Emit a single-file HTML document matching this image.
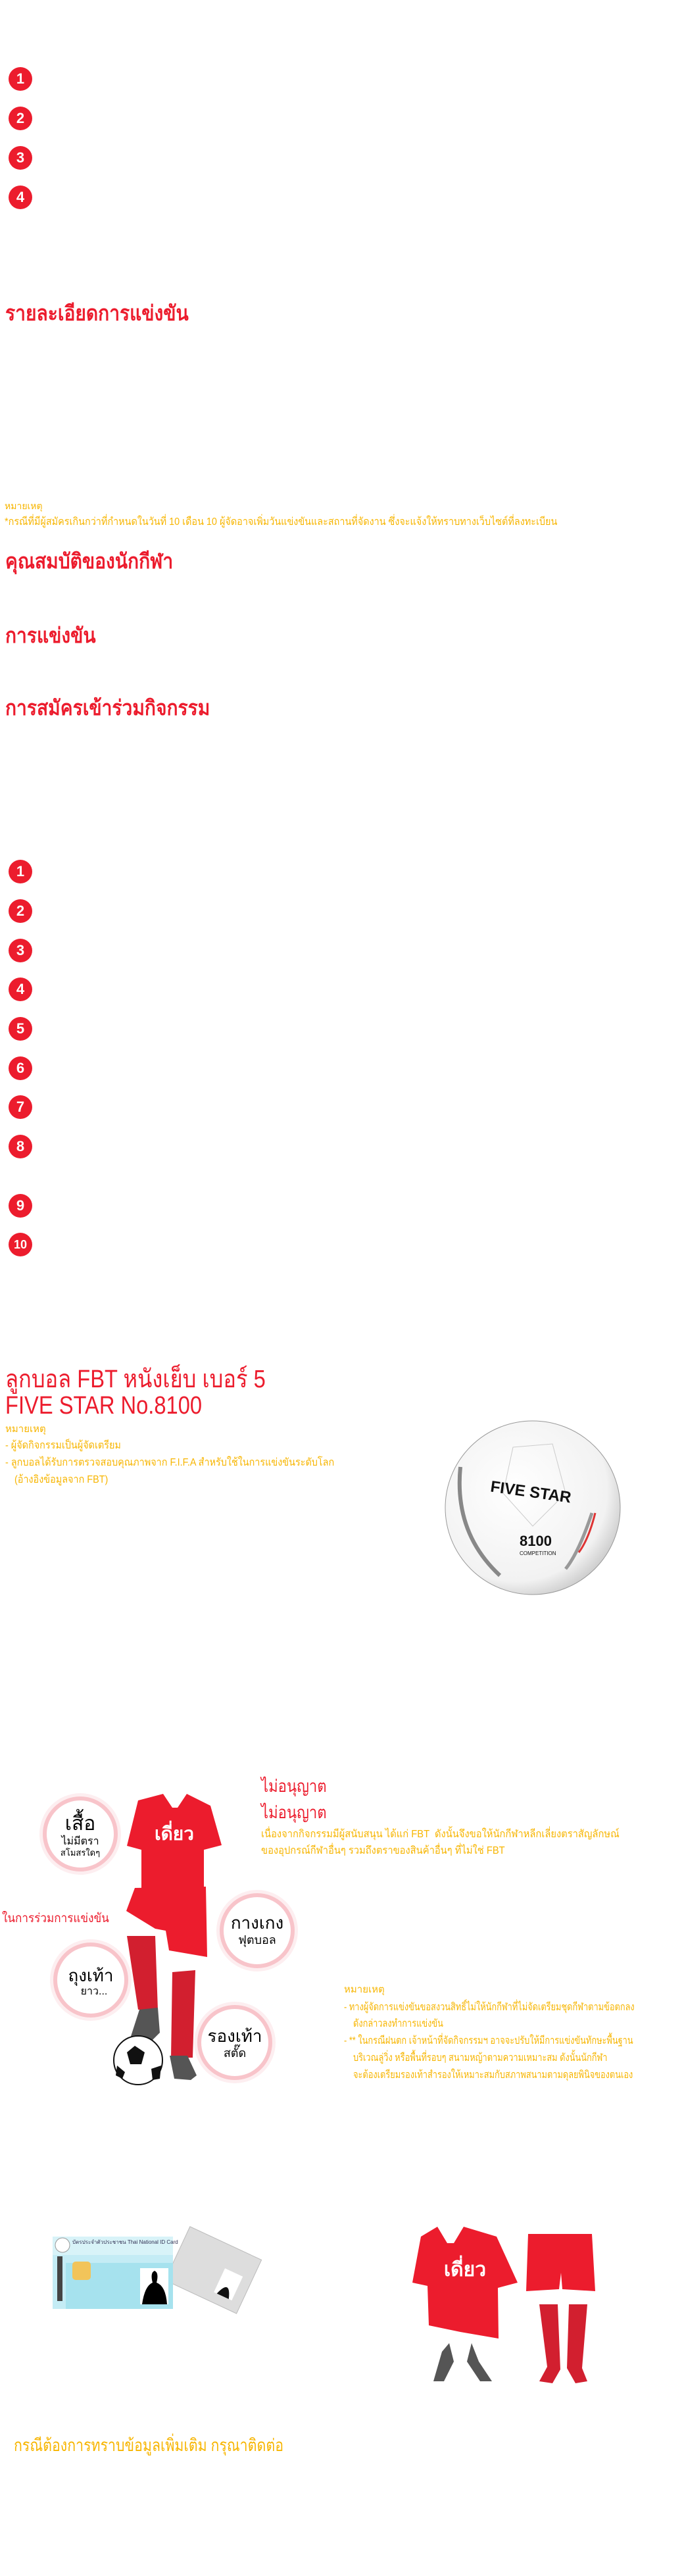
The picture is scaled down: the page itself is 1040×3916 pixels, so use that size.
<!DOCTYPE html>
<html><head><meta charset="utf-8">
<style>
html,body{margin:0;padding:0;background:#fff}
body{width:1040px;height:3916px;position:relative;overflow:hidden;font-family:"Liberation Sans","Noto Sans CJK SC",sans-serif}
.t{position:absolute;white-space:nowrap;line-height:1;transform-origin:0 50%}
.h{color:#ec1c2d;font-size:32px;font-weight:bold;transform:scaleX(0.88)}
.y{color:#f7b500;font-size:16px}
.n{position:absolute;width:36px;height:36px;border-radius:50%;background:#ec1c2d;color:#fff;font-size:22px;line-height:36px;text-align:center;font-weight:bold}
svg{position:absolute;left:0;top:0}
</style></head><body>
<svg width="1040" height="3916" viewBox="0 0 1040 3916">
<defs><radialGradient id="bg" cx="0.4" cy="0.4" r="0.7"><stop offset="0" stop-color="#fff"/><stop offset="0.75" stop-color="#f2f2f2"/><stop offset="1" stop-color="#bbb"/></radialGradient></defs>
<ellipse cx="810" cy="2292" rx="133" ry="132" fill="url(#bg)" stroke="#999" stroke-width="1"/>
<path d="M700 2230 Q690 2330 760 2395" stroke="#888" stroke-width="6" fill="none"/>
<path d="M900 2300 Q880 2360 860 2385" stroke="#999" stroke-width="5" fill="none"/>
<path d="M905 2300 Q895 2340 880 2360" stroke="#d33" stroke-width="3" fill="none"/>
<path d="M780 2200 L840 2195 L860 2270 L810 2320 L765 2270 Z" stroke="#ccc" fill="none"/>
<text x="745" y="2275" font-family="Liberation Sans" font-weight="bold" font-size="24" fill="#111" transform="rotate(8 800 2270)">FIVE STAR</text>
<text x="790" y="2350" font-family="Liberation Sans" font-weight="bold" font-size="22" fill="#111">8100</text>
<text x="790" y="2364" font-family="Liberation Sans" font-size="8" fill="#111">COMPETITION</text>
<g>
<circle cx="122" cy="2788" r="62" fill="#fdeef0"/><circle cx="122" cy="2788" r="54" fill="#fff" stroke="#f8c4ca" stroke-width="6"/>
<circle cx="391" cy="2935" r="62" fill="#fdeef0"/><circle cx="391" cy="2935" r="54" fill="#fff" stroke="#f8c4ca" stroke-width="6"/>
<circle cx="138" cy="3010" r="62" fill="#fdeef0"/><circle cx="138" cy="3010" r="54" fill="#fff" stroke="#f8c4ca" stroke-width="6"/>
<circle cx="357" cy="3105" r="62" fill="#fdeef0"/><circle cx="357" cy="3105" r="54" fill="#fff" stroke="#f8c4ca" stroke-width="6"/>
</g>
<path d="M205 2870 L313 2868 L315 2975 L257 2965 L252 2935 L236 2932 L192 2905 Z" fill="#ec1c2d"/>
<path d="M193 2943 L236 2943 L240 3055 L210 3055 Z" fill="#d21f2f"/>
<path d="M262 2998 L297 2995 L293 3128 L260 3128 Z" fill="#d21f2f"/>
<path d="M212 3055 L240 3052 L243 3090 L228 3105 L195 3108 Z" fill="#555"/>
<path d="M258 3125 L285 3125 L299 3155 L290 3162 L265 3160 Z" fill="#555"/>
<path d="M248 2727 L262 2748 L270 2748 L284 2727 L320 2745 L337 2805 L310 2812 L310 2872 L215 2872 L215 2812 L193 2806 L210 2737 Z" fill="#ec1c2d"/>
<text x="265" y="2797" text-anchor="middle" font-size="28" fill="#fff" font-weight="bold" font-family="Liberation Sans,sans-serif">เดี่ยว</text>
<circle cx="210" cy="3132" r="37" fill="#fff" stroke="#111" stroke-width="2"/>
<path d="M205 3110 L220 3120 L215 3138 L198 3138 L193 3120 Z" fill="#111"/>
<path d="M230 3145 L245 3140 L243 3160 L232 3162 Z" fill="#111"/>
<path d="M178 3140 L190 3150 L186 3160 L176 3155 Z" fill="#111"/>
<g transform="rotate(25 320 3460)"><rect x="260" y="3405" width="120" height="90" fill="#ddd" stroke="#bbb"/><rect x="335" y="3440" width="30" height="40" fill="#fff"/><path d="M340 3480 Q350 3450 360 3480 Z" fill="#111"/></g>
<rect x="80" y="3400" width="183" height="110" fill="#c4ecf5"/>
<rect x="80" y="3400" width="183" height="28" fill="#d8f3f8"/>
<rect x="100" y="3440" width="163" height="70" fill="#a6e2ee"/>
<rect x="110" y="3438" width="28" height="28" rx="5" fill="#f2c45a"/>
<rect x="87" y="3430" width="8" height="68" fill="#444"/>
<rect x="213" y="3448" width="43" height="55" fill="#fff"/>
<path d="M216 3503 Q220 3475 232 3470 Q228 3455 235 3452 Q242 3455 238 3470 Q252 3475 254 3503 Z" fill="#000"/>
<circle cx="95" cy="3413" r="11" fill="#fff" stroke="#999"/>
<text x="110" y="3411" font-size="8" fill="#335" font-family="Liberation Sans">บัตรประจำตัวประชาชน Thai National ID Card</text>
<path d="M665 3385 L680 3410 L690 3410 L705 3385 L755 3400 L787 3470 L757 3478 L758 3555 L700 3545 L652 3535 L650 3475 L627 3470 L640 3400 Z" fill="#ec1c2d"/>
<text x="707" y="3460" text-anchor="middle" font-size="30" fill="#fff" font-weight="bold" font-family="Liberation Sans,sans-serif">เดี่ยว</text>
<path d="M803 3396 L900 3396 L905 3483 L855 3480 L853 3455 L850 3480 L800 3483 Z" fill="#ec1c2d"/>
<path d="M820 3503 L848 3503 L852 3602 L840 3623 L820 3620 L832 3598 Z" fill="#d21f2f"/>
<path d="M865 3503 L893 3503 L885 3600 L893 3620 L875 3623 L862 3600 Z" fill="#d21f2f"/>
<path d="M683 3562 L690 3590 L675 3620 L659 3620 L672 3575 Z" fill="#555"/>
<path d="M717 3562 L728 3590 L748 3620 L730 3620 L710 3590 Z" fill="#555"/>
</svg>

<div class="n" style="left:13px;top:102px">1</div>
<div class="n" style="left:13px;top:162px">2</div>
<div class="n" style="left:13px;top:222px">3</div>
<div class="n" style="left:13px;top:282px">4</div>

<div class="t h" style="left:8px;top:460px">รายละเอียดการแข่งขัน</div>
<div class="t y" style="left:7px;top:762px;font-size:14px">หมายเหตุ</div>
<div class="t y" style="left:7px;top:786px;transform:scaleX(0.9)">*กรณีที่มีผู้สมัครเกินกว่าที่กำหนดในวันที่ 10 เดือน 10 ผู้จัดอาจเพิ่มวันแข่งขันและสถานที่จัดงาน ซึ่งจะแจ้งให้ทราบทางเว็บไซต์ที่ลงทะเบียน</div>
<div class="t h" style="left:8px;top:837px">คุณสมบัติของนักกีฬา</div>
<div class="t h" style="left:8px;top:950px">การแข่งขัน</div>
<div class="t h" style="left:8px;top:1060px">การสมัครเข้าร่วมกิจกรรม</div>

<div class="n" style="left:13px;top:1307px">1</div>
<div class="n" style="left:13px;top:1367px">2</div>
<div class="n" style="left:13px;top:1427px">3</div>
<div class="n" style="left:13px;top:1486px">4</div>
<div class="n" style="left:13px;top:1546px">5</div>
<div class="n" style="left:13px;top:1606px">6</div>
<div class="n" style="left:13px;top:1665px">7</div>
<div class="n" style="left:13px;top:1725px">8</div>
<div class="n" style="left:13px;top:1815px">9</div>
<div class="n" style="left:13px;top:1874px;font-size:18px">10</div>

<div class="t h" style="left:8px;top:2078px;font-size:38px;font-weight:normal;transform:scaleX(0.86)">ลูกบอล FBT หนังเย็บ เบอร์ 5</div>
<div class="t h" style="left:8px;top:2118px;font-size:38px;font-weight:normal;transform:scaleX(0.86)">FIVE STAR No.8100</div>
<div class="t y" style="left:8px;top:2165px;font-size:15px">หมายเหตุ</div>
<div class="t y" style="left:8px;top:2190px;transform:scaleX(0.9)">- ผู้จัดกิจกรรมเป็นผู้จัดเตรียม</div>
<div class="t y" style="left:8px;top:2216px;transform:scaleX(0.9)">- ลูกบอลได้รับการตรวจสอบคุณภาพจาก F.I.F.A สำหรับใช้ในการแข่งขันระดับโลก</div>
<div class="t y" style="left:22px;top:2242px;transform:scaleX(0.9)">(อ้างอิงข้อมูลจาก FBT)</div>

<div class="t" style="left:397px;top:2702px;color:#ec1c2d;font-size:26px;transform:scaleX(0.85)">ไม่อนุญาต</div>
<div class="t" style="left:397px;top:2742px;color:#ec1c2d;font-size:26px;transform:scaleX(0.85)">ไม่อนุญาต</div>
<div class="t y" style="left:397px;top:2781px;transform:scaleX(0.92)">เนื่องจากกิจกรรมมีผู้สนับสนุน ได้แก่ FBT &nbsp;ดังนั้นจึงขอให้นักกีฬาหลีกเลี่ยงตราสัญลักษณ์</div>
<div class="t y" style="left:397px;top:2806px;transform:scaleX(0.92)">ของอุปกรณ์กีฬาอื่นๆ รวมถึงตราของสินค้าอื่นๆ ที่ไม่ใช่ FBT</div>

<div class="t" style="left:3px;top:2907px;color:#ec1c2d;font-size:19px;transform:scaleX(0.9)">ในการร่วมการแข่งขัน</div>

<div class="t" style="left:92px;top:2758px;font-size:30px;width:60px;text-align:center">เสื้อ</div>
<div class="t" style="left:82px;top:2792px;font-size:16px;width:80px;text-align:center">ไม่มีตรา</div>
<div class="t" style="left:82px;top:2810px;font-size:13px;width:80px;text-align:center">สโมสรใดๆ</div>
<div class="t" style="left:346px;top:2910px;font-size:26px;width:90px;text-align:center">กางเกง</div>
<div class="t" style="left:346px;top:2940px;font-size:18px;width:90px;text-align:center">ฟุตบอล</div>
<div class="t" style="left:93px;top:2990px;font-size:26px;width:90px;text-align:center">ถุงเท้า</div>
<div class="t" style="left:98px;top:3020px;font-size:16px;width:90px;text-align:center">ยาว...</div>
<div class="t" style="left:312px;top:3082px;font-size:26px;width:90px;text-align:center">รองเท้า</div>
<div class="t" style="left:312px;top:3112px;font-size:18px;width:90px;text-align:center">สตั๊ด</div>

<div class="t y" style="left:523px;top:3017px;font-size:15px">หมายเหตุ</div>
<div class="t y" style="left:523px;top:3044px;transform:scaleX(0.8)">- ทางผู้จัดการแข่งขันขอสงวนสิทธิ์ไม่ให้นักกีฬาที่ไม่จัดเตรียมชุดกีฬาตามข้อตกลง</div>
<div class="t y" style="left:537px;top:3069px;transform:scaleX(0.8)">ดังกล่าวลงทำการแข่งขัน</div>
<div class="t y" style="left:523px;top:3095px;transform:scaleX(0.8)">- ** ในกรณีฝนตก เจ้าหน้าที่จัดกิจกรรมฯ อาจจะปรับให้มีการแข่งขันทักษะพื้นฐาน</div>
<div class="t y" style="left:537px;top:3121px;transform:scaleX(0.8)">บริเวณลู่วิ่ง หรือพื้นที่รอบๆ สนามหญ้าตามความเหมาะสม ดังนั้นนักกีฬา</div>
<div class="t y" style="left:537px;top:3147px;transform:scaleX(0.8)">จะต้องเตรียมรองเท้าสำรองให้เหมาะสมกับสภาพสนามตามดุลยพินิจของตนเอง</div>

<div class="t" style="left:21px;top:3704px;color:#f7b500;font-size:26px;transform:scaleX(0.82)">กรณีต้องการทราบข้อมูลเพิ่มเติม กรุณาติดต่อ</div>
</body></html>
